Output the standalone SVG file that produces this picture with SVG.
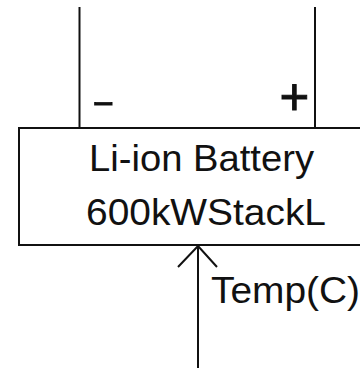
<svg xmlns="http://www.w3.org/2000/svg" width="360" height="368" viewBox="0 0 360 368">
<style>
.ln{stroke:#111;stroke-width:2;fill:none}
.t{font-family:"Liberation Sans",Arial,sans-serif;fill:#111}
.sym{stroke:#111;stroke-width:0.9}
</style>
<rect width="360" height="368" fill="#fff"/>
<g id="connectors">
<line class="ln" x1="79.5" y1="7" x2="79.5" y2="128"/>
<line class="ln" x1="315" y1="7" x2="315" y2="128"/>
<line class="ln" x1="198" y1="368" x2="198" y2="245"/>
<polyline class="ln" points="178,267 198,246 217,267"/>
</g>
<g id="battery">
<rect class="ln" x="19" y="128" width="350" height="117"/>
<text class="t" font-size="37" x="89" y="171" textLength="225" lengthAdjust="spacingAndGlyphs">Li-ion Battery</text>
<text class="t" font-size="37" x="86" y="225" textLength="240" lengthAdjust="spacingAndGlyphs">600kWStackL</text>
</g>
<g id="ports">
<text class="t sym" font-size="34" transform="translate(92,113) scale(2,1)">-</text>
<text class="t sym" font-size="51" x="279.5" y="115">+</text>
<text class="t" font-size="37" x="211" y="303" textLength="149" lengthAdjust="spacingAndGlyphs">Temp(C)</text>
</g>
</svg>
